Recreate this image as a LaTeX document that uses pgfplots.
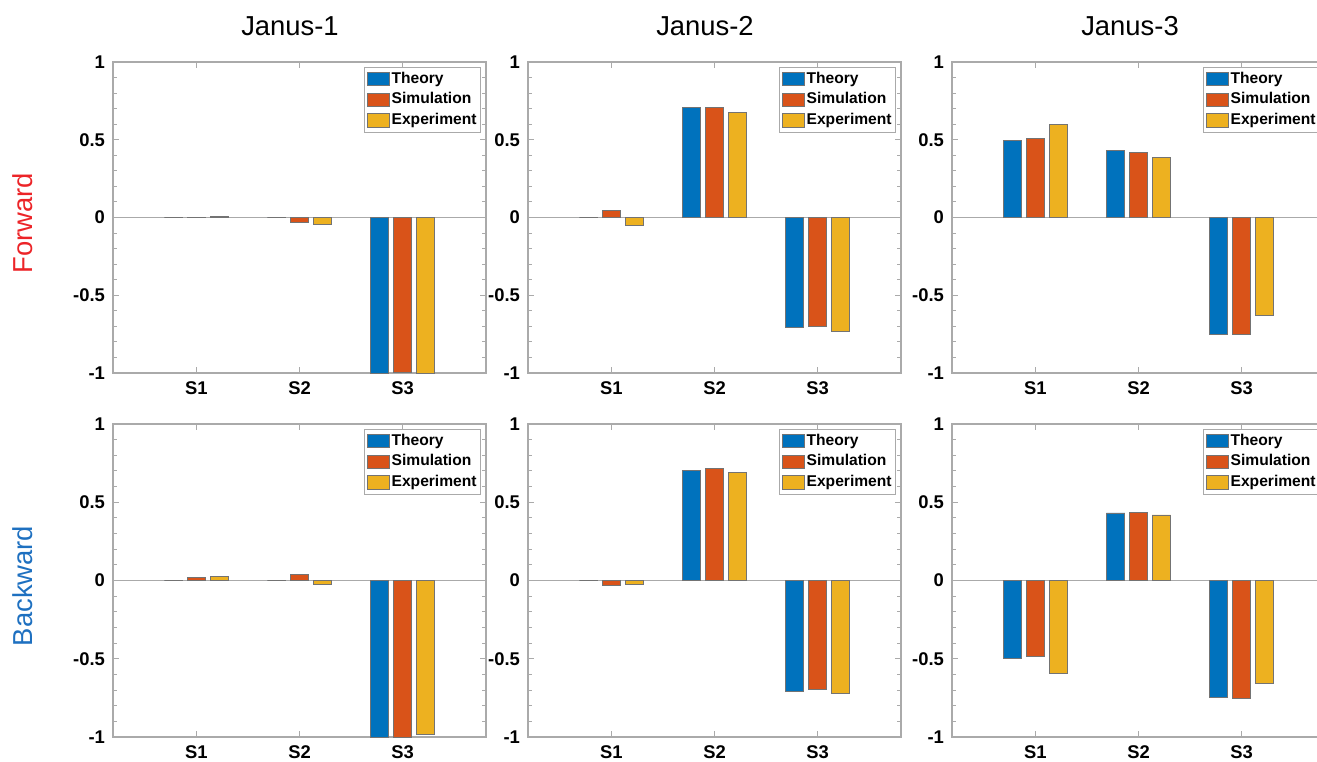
\documentclass[border=0pt]{standalone}
\usepackage{fontspec}
\setmainfont{Liberation Sans}
\usepackage{pgfplots}
\pgfplotsset{compat=1.18}
\definecolor{mblue}{RGB}{0,114,189}
\definecolor{mred}{RGB}{217,83,25}
\definecolor{myel}{RGB}{237,177,32}
\definecolor{fwd}{RGB}{236,36,40}
\definecolor{bwd}{RGB}{30,112,192}
\definecolor{framec}{RGB}{170,170,170}

\pgfplotsset{
  jan/.style={
    scale only axis, width=186.5pt,
    anchor=north west,
    xmin=0.19, xmax=3.81, ymin=-1, ymax=1,
    xtick={1,2,3}, xticklabels={S1,S2,S3},
    ytick={-1,-0.5,0,0.5,1}, yticklabels={-1,-0.5,0,0.5,1},
    minor y tick num=4,
    tick align=inside,
    major tick length=3pt, minor tick length=2pt,
    axis line style={framec, line width=0.6pt},
    tick style={framec, line width=0.5pt},
    ticklabel style={font=\bfseries\fontsize{9.2}{10}\selectfont, text=black},
    yticklabel style={xshift=-0.5pt},
    xticklabel style={yshift=-1pt},
    extra y ticks={0}, extra y tick labels={},
    extra y tick style={grid=major, major grid style={framec, line width=0.6pt}, tick style={draw=none}},
    legend style={at={(1,1)}, anchor=north east, xshift=-2.5pt, yshift=-2.5pt,
      draw=framec, fill=white, font=\bfseries\fontsize{7.8}{8}\selectfont,
      inner xsep=1pt, inner ysep=1.2pt, row sep=1.2pt,
      nodes={inner sep=1pt}},
    legend cell align=left,
  },
  bb/.style={ybar, bar width=0.178, fill=#1, draw=black!55, line width=0.4pt,
    legend image code/.code={\draw[fill=#1, draw=black!55, line width=0.4pt] (0pt,-3.3pt) rectangle (11pt,3.3pt);}},
}

\begin{document}
\begin{tikzpicture}

% Row 1: Forward
\begin{axis}[jan, height=155.5pt, at={(56.5pt,-31pt)}]
\addplot[bb=mblue, bar shift=-0.222] coordinates {(1,0) (2,0) (3,-1.0)};
\addplot[bb=mred, bar shift=0] coordinates {(1,0.003) (2,-0.030) (3,-0.993)};
\addplot[bb=myel, bar shift=0.222] coordinates {(1,0.008) (2,-0.043) (3,-1.0)};
\legend{Theory,Simulation,Experiment}
\end{axis}

\begin{axis}[jan, height=155.5pt, at={(264pt,-31pt)}]
\addplot[bb=mblue, bar shift=-0.222] coordinates {(1,0) (2,0.705) (3,-0.707)};
\addplot[bb=mred, bar shift=0] coordinates {(1,0.045) (2,0.709) (3,-0.703)};
\addplot[bb=myel, bar shift=0.222] coordinates {(1,-0.049) (2,0.673) (3,-0.731)};
\legend{Theory,Simulation,Experiment}
\end{axis}

\begin{axis}[jan, height=155.5pt, at={(476pt,-31pt)}]
\addplot[bb=mblue, bar shift=-0.222] coordinates {(1,0.498) (2,0.434) (3,-0.752)};
\addplot[bb=mred, bar shift=0] coordinates {(1,0.509) (2,0.419) (3,-0.752)};
\addplot[bb=myel, bar shift=0.222] coordinates {(1,0.596) (2,0.389) (3,-0.630)};
\legend{Theory,Simulation,Experiment}
\end{axis}

% Row 2: Backward
\begin{axis}[jan, height=156.5pt, at={(56.5pt,-212pt)}]
\addplot[bb=mblue, bar shift=-0.222] coordinates {(1,0) (2,0) (3,-1.0)};
\addplot[bb=mred, bar shift=0] coordinates {(1,0.021) (2,0.040) (3,-1.0)};
\addplot[bb=myel, bar shift=0.222] coordinates {(1,0.026) (2,-0.026) (3,-0.983)};
\legend{Theory,Simulation,Experiment}
\end{axis}

\begin{axis}[jan, height=156.5pt, at={(264pt,-212pt)}]
\addplot[bb=mblue, bar shift=-0.222] coordinates {(1,0) (2,0.706) (3,-0.706)};
\addplot[bb=mred, bar shift=0] coordinates {(1,-0.034) (2,0.716) (3,-0.693)};
\addplot[bb=myel, bar shift=0.222] coordinates {(1,-0.026) (2,0.691) (3,-0.721)};
\legend{Theory,Simulation,Experiment}
\end{axis}

\begin{axis}[jan, height=156.5pt, at={(476pt,-212pt)}]
\addplot[bb=mblue, bar shift=-0.222] coordinates {(1,-0.500) (2,0.432) (3,-0.748)};
\addplot[bb=mred, bar shift=0] coordinates {(1,-0.487) (2,0.436) (3,-0.754)};
\addplot[bb=myel, bar shift=0.222] coordinates {(1,-0.596) (2,0.419) (3,-0.656)};
\legend{Theory,Simulation,Experiment}
\end{axis}

\begin{scope}[x=0.5pt, y=-0.5pt]
\node[font=\fontsize{13.7}{14}\selectfont] at (290,26) {Janus-1};
\node[font=\fontsize{13.7}{14}\selectfont] at (705,26) {Janus-2};
\node[font=\fontsize{13.7}{14}\selectfont] at (1130,26) {Janus-3};
\node[rotate=90, text=fwd, font=\fontsize{13.7}{14}\selectfont] at (23,223) {Forward};
\node[rotate=90, text=bwd, font=\fontsize{13.7}{14}\selectfont] at (23,586) {Backward};
\end{scope}

\pgfresetboundingbox
\useasboundingbox (0pt,0pt) rectangle (658.5pt,-380.5pt);
\end{tikzpicture}
\end{document}
